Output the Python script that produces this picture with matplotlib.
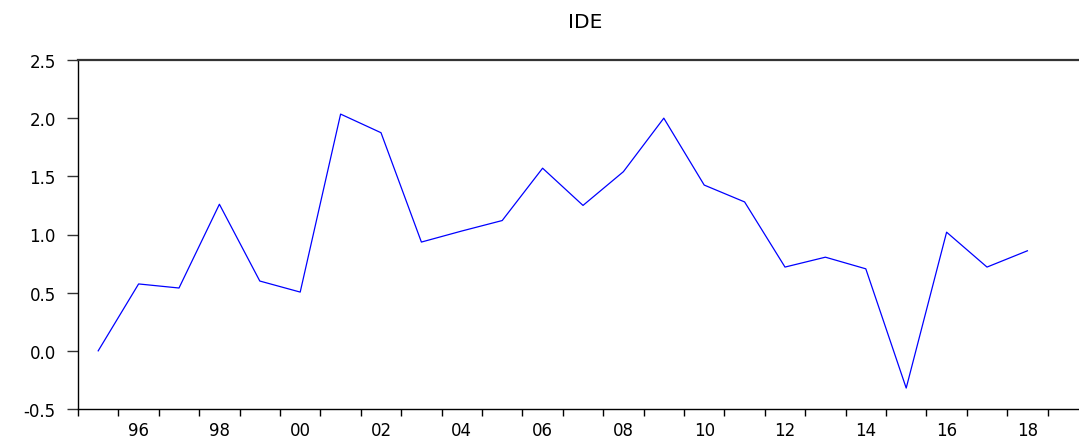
import numpy as np
import matplotlib
matplotlib.use("Agg")
import matplotlib.pyplot as plt

# yearly IDE values, 1995-2018
years = list(range(1995, 2019))
ide = [0.00, 0.575, 0.54, 1.26, 0.60, 0.505, 2.035, 1.875, 0.935, 1.03,
       1.12, 1.57, 1.25, 1.54, 2.00, 1.425, 1.28, 0.72, 0.805, 0.705,
       -0.32, 1.02, 0.72, 0.86]
yticks = [-0.5, 0.0, 0.5, 1.0, 1.5, 2.0, 2.5]
label_years = list(range(1996, 2019, 2))

plt.rcParams['font.family'] = ['DejaVu Sans']

W, H = 1079, 439
fig = plt.figure(figsize=(W / 100, H / 100), dpi=100)
left_px, right_px, top_px, bot_px = 78, 1085, 61, 410
ax = fig.add_axes([left_px / W, 1 - bot_px / H,
                   (right_px - left_px) / W, (bot_px - top_px) / H])

x = np.array(years) + 0.5
ax.plot(x, ide, color='#0000ff', lw=0.9)

px_per_year = 40.4
ax.set_xlim(1995, 1995 + (right_px - left_px) / px_per_year)
ax.set_ylim(-0.5, 2.5)

# y axis
ax.set_yticks(yticks)
ax.set_yticklabels(['%.1f' % v for v in yticks])
ax.tick_params(axis='y', direction='out', length=8, width=1.0,
               pad=8, labelsize=12, color='#333333')

# x axis: ticks at year boundaries, labels at year centres
bounds = list(range(1995, 2020))
ax.set_xticks(bounds)
ax.set_xticklabels([''] * len(bounds))
ax.tick_params(axis='x', which='major', direction='out', length=5, width=1.0)
for yr, tk in zip(bounds, ax.xaxis.get_major_ticks()):
    tk.tick1line.set_color('black' if yr % 2 == 0 else '#888888')
ax.set_xticks([y + 0.5 for y in label_years], minor=True)
ax.set_xticklabels(['%02d' % (y % 100) for y in label_years], minor=True)
ax.tick_params(axis='x', which='minor', length=0, pad=9, labelsize=12)

for s in ['left', 'bottom']:
    ax.spines[s].set_color('black')
    ax.spines[s].set_linewidth(1.0)
ax.spines['top'].set_color('#333333')
ax.spines['top'].set_linewidth(1.6)
ax.spines['right'].set_visible(False)

fig.text(585 / W, 1 - 22 / H, 'IDE', ha='center', va='center', fontsize=14.5)

fig.savefig('out.png', dpi=100)
